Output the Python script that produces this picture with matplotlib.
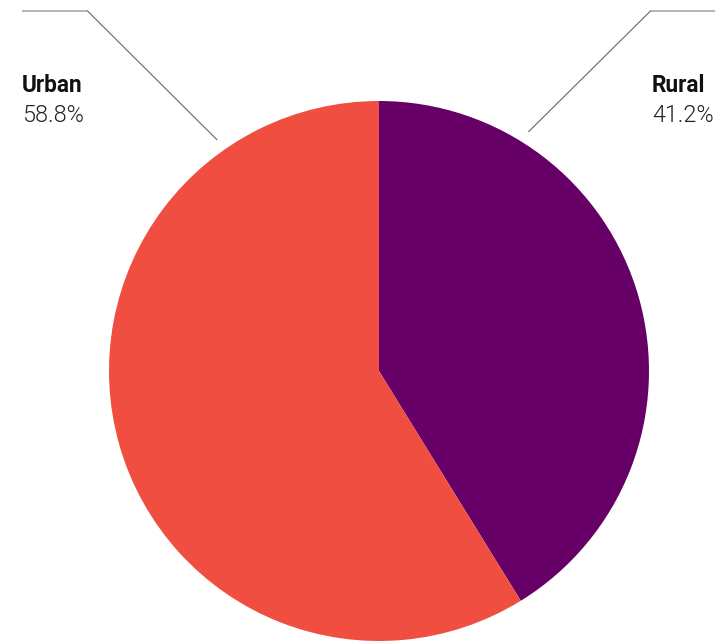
import math
import matplotlib
matplotlib.use("Agg")
import matplotlib.pyplot as plt

# share of population by area
labels = ["Rural", "Urban"]
shares = [41.2, 58.8]
colors = ["#660066", "#F04E41"]

W, H = 727, 641
cx, cy, r = 379, H - 371, 270

fig = plt.figure(figsize=(W / 100, H / 100), dpi=100)
ax = fig.add_axes([0, 0, 1, 1])

ax.pie(shares, colors=colors, startangle=90, counterclock=False,
       center=(cx, cy), radius=r, frame=True,
       wedgeprops=dict(linewidth=0))
ax.set_xlim(0, W)
ax.set_ylim(0, H)
ax.axis("off")


def connector(deg, elbow_x, end_x):
    # leader from just outside the pie up to the label row
    ang = math.radians(90 + deg)
    sx = cx + 282 * math.cos(ang)
    sy = cy + 282 * math.sin(ang)
    top = H - 10.5
    ax.plot([sx, elbow_x], [sy, top], color="#666666", lw=0.8, solid_capstyle="butt")
    ax.plot([elbow_x, end_x], [top, top], color="#a8a8a8", lw=1.2, solid_capstyle="butt")


connector(35, 87, 22)
connector(-32, 651, 715)

text_x = {"Urban": 22, "Rural": 652}
for name, val in zip(labels, shares):
    x = text_x[name]
    ax.text(x, H - 92, name, fontsize=16.3, fontweight="bold", family="Roboto",
            color="#111111", va="baseline", ha="left")
    ax.text(x, H - 122, f"{val}%", fontsize=16.8, fontweight=300, family="Roboto",
            color="#222222", va="baseline", ha="left")

fig.savefig("out.png", dpi=100)
